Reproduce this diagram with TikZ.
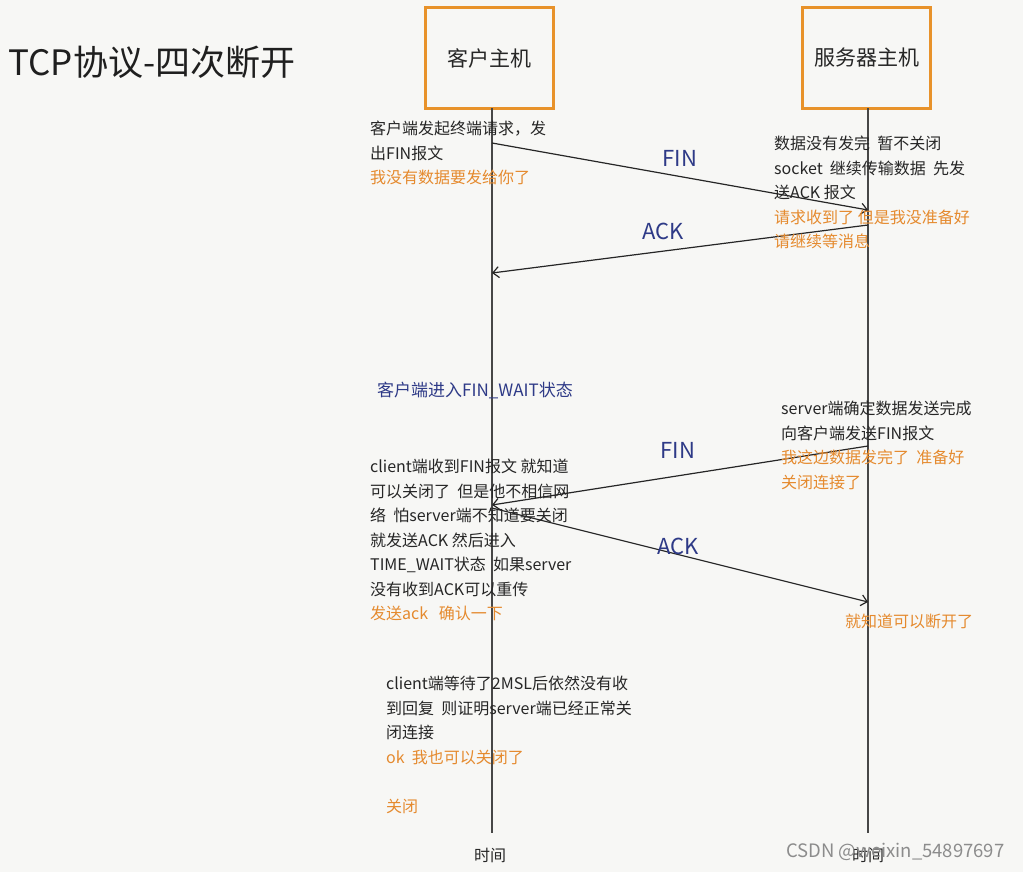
\documentclass[tikz,border=0pt]{standalone}
\usepackage{fontspec}
\setmainfont{Noto Sans CJK SC}
\usetikzlibrary{arrows.meta}
\definecolor{hostorange}{HTML}{E8922A}
\definecolor{noteorange}{HTML}{E58A2E}
\definecolor{msgblue}{HTML}{2E3A87}
\definecolor{inkgrey}{HTML}{262626}
\definecolor{paper}{HTML}{F7F7F5}

\begin{document}
\begin{tikzpicture}[x=1pt, y=-1pt,
  host/.style={draw=hostorange, line width=3pt, minimum width=128pt,
    minimum height=101pt, font=\fontsize{21}{25}\selectfont, text=inkgrey},
  lifeline/.style={inkgrey!85, line width=1.2pt},
  msg/.style={inkgrey, line width=1.2pt, -{Straight Barb[length=6pt,width=11pt]}},
  msglabel/.style={text=msgblue, font=\fontsize{22}{26}\selectfont},
  note/.style={anchor=north west, inner sep=0pt, align=left, text=inkgrey,
    font=\fontsize{16}{24.5}\selectfont},
  warn/.style={note, text=noteorange}]
\fill[paper] (0,0) rectangle (1023,872);
\useasboundingbox (0,0) rectangle (1023,872);

\node[anchor=west, text=black!88, font=\fontsize{35}{40}\selectfont] (title) at (5,62) {TCP协议-四次断开};

% hosts and time lines
\node[host] (client) at (489.5,58) {客户主机};
\node[host] (server) at (866.5,58) {服务器主机};
\coordinate (cTop) at (492,108.5);
\coordinate (cEnd) at (492,833);
\coordinate (sTop) at (868,108.5);
\coordinate (sEnd) at (868,833);
\draw[lifeline] (cTop) -- (cEnd);
\draw[lifeline] (sTop) -- (sEnd);
\node[text=inkgrey, font=\fontsize{16}{20}\selectfont] (cTime) at (490,855) {时间};
\node[text=inkgrey, font=\fontsize{16}{20}\selectfont] (sTime) at (868,855) {时间};

% the four messages
\coordinate (c1) at (492,143);
\coordinate (s1) at (868,210);
\coordinate (s2) at (868,225);
\coordinate (c2) at (492,273);
\coordinate (s3) at (868,446);
\coordinate (c3) at (492,505);
\coordinate (c4) at (492,508);
\coordinate (s4) at (868,602);
\draw[msg] (c1) -- (s1);
\draw[msg] (s2) -- (c2);
\draw[msg] (s3) -- (c3);
\draw[msg] (c4) -- (s4);
\node[msglabel] (fin1) at (680,158) {FIN};
\node[msglabel] (ack1) at (663,231) {ACK};
\node[msglabel] (fin2) at (678,450) {FIN};
\node[msglabel] (ack2) at (678,546) {ACK};

% notes
\node[note] (cNote1) at (370,121) {客户端发起终端请求，发\\出FIN报文\\
  \textcolor{noteorange}{我没有数据要发给你了}};
\node[note] (sNote1) at (774,136) {数据没有发完\ \ 暂不关闭\\
  socket\ \ 继续传输数据\ \ 先发\\送ACK 报文\\
  \textcolor{noteorange}{请求收到了 但是我没准备好}\\
  \textcolor{noteorange}{请继续等消息}};
\node[note, text=msgblue, font=\fontsize{17}{20}\selectfont] (cWait) at (377,382)
  {客户端进入FIN\_WAIT状态};
\node[note] (sNote2) at (781,401) {server端确定数据发送完成\\向客户端发送FIN报文\\
  \textcolor{noteorange}{我这边数据发完了\ \ 准备好}\\
  \textcolor{noteorange}{关闭连接了}};
\node[note] (cNote2) at (370,459) {client端收到FIN报文 就知道\\
  可以关闭了\ \ 但是他不相信网\\络\ \ 怕server端不知道要关闭\\
  就发送ACK 然后进入\\TIME\_WAIT状态\ \ 如果server\\没有收到ACK可以重传\\
  \textcolor{noteorange}{发送ack\ \ \ 确认一下}};
\node[warn] (sNote3) at (845,614) {就知道可以断开了};
\node[note] (cNote3) at (386,676) {client端等待了2MSL后依然没有收\\
  到回复\ \ 则证明server端已经正常关\\闭连接\\
  \textcolor{noteorange}{ok\ \ 我也可以关闭了}\\[24.5pt]
  \textcolor{noteorange}{关闭}};

\node[anchor=east, text=black!45, font=\fontsize{18.5}{22}\selectfont] (mark) at (1008,852)
  {CSDN @weixin\_54897697};
\end{tikzpicture}
\end{document}
